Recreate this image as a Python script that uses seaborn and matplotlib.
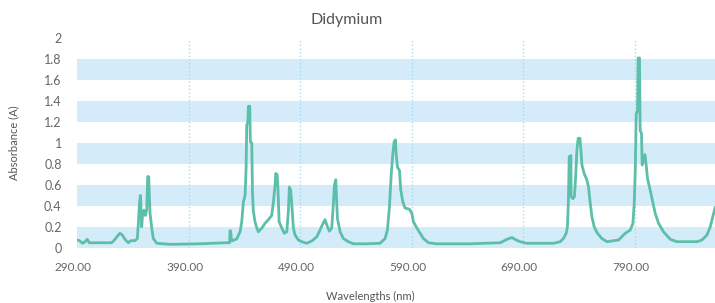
import matplotlib
matplotlib.use("Agg")
import matplotlib.pyplot as plt
import matplotlib.transforms as mtransforms
import seaborn as sns
import pandas as pd

# spectrum
wavelength = [290, 292.1, 295.1, 297.2, 299.2, 301, 321.1, 324.1, 327, 328.6, 330.6, 333, 336, 338.2, 342,
              344.1, 345, 345.9, 346.8, 347.4, 348, 348.9, 350.1, 351.3, 352.5, 353.4, 354.3, 354.8, 355.5,
              357, 358.4, 361.5, 373.4, 400, 422.7, 426.8, 427.2, 427.6, 428.7, 433.2, 436.2, 437.7, 439.2,
              440.7, 441.6, 442.2, 443.1, 443.7, 444.9, 445.4, 446.7, 447.3, 448.1, 449.6, 451.2, 452.6,
              455.7, 458.6, 461.6, 464.6, 466.1, 467.6, 468.2, 469.4, 470, 470.6, 471.2, 473.6, 475.9,
              478.1, 479.5, 480.4, 481.6, 482.6, 484, 485.5, 488.5, 491.5, 496, 501, 505, 507, 509.5,
              512.4, 513.9, 516.3, 518.4, 519.9, 520.8, 522, 522.6, 523.5, 525.9, 528.8, 533.3, 537.8,
              549.8, 561.7, 566.2, 568.3, 570.1, 571.6, 573.1, 574.3, 575.5, 576.1, 577.3, 579.1, 580.3,
              582.1, 584.2, 588, 590.2, 591.6, 594.7, 597.6, 600.6, 605.1, 612.6, 642.5, 669.4, 675,
              679.9, 683, 687.3, 693.3, 717.2, 723.2, 726.1, 728.6, 729.7, 730.6, 731.3, 732.8, 733,
              734.6, 736, 736.9, 738.2, 739.3, 740.9, 741.8, 742.7, 744.7, 747.1, 748.6, 750.1, 751.6,
              753.7, 756.6, 760.6, 765.1, 775.5, 781.5, 786, 788.4, 789.6, 790.5, 791.4, 792.5, 793.1,
              794.3, 794.9, 796.1, 796.7, 797.9, 799.2, 800.1, 801.5, 803.9, 806.4, 808.4, 811.4, 815.8,
              821.9, 827.8, 845.8, 850.3, 854.8, 857.7, 860.1, 862.2]
absorbance = [0.076, 0.07, 0.045, 0.06, 0.083, 0.05, 0.05, 0.083, 0.124, 0.14, 0.124, 0.083, 0.05, 0.07, 0.07,
              0.09, 0.235, 0.41, 0.5, 0.38, 0.2, 0.33, 0.36, 0.31, 0.36, 0.68, 0.68, 0.52, 0.33,
              0.19, 0.09, 0.045, 0.035, 0.04, 0.05, 0.05, 0.165, 0.165, 0.067, 0.086, 0.155, 0.25, 0.44,
              0.5, 0.76, 1.17, 1.2, 1.35, 1.35, 1.01, 1.0, 0.54, 0.35, 0.25, 0.19, 0.155,
              0.19, 0.235, 0.27, 0.31, 0.44, 0.6, 0.71, 0.7, 0.6, 0.44, 0.25, 0.19, 0.14,
              0.155, 0.35, 0.58, 0.55, 0.41, 0.19, 0.124, 0.076, 0.06, 0.045, 0.07, 0.108, 0.15, 0.21,
              0.27, 0.22, 0.16, 0.19, 0.43, 0.6, 0.65, 0.49, 0.28, 0.155, 0.09, 0.06, 0.04,
              0.04, 0.045, 0.09, 0.17, 0.39, 0.68, 0.89, 1.01, 1.03, 0.9, 0.77, 0.74, 0.55,
              0.44, 0.38, 0.37, 0.33, 0.25, 0.19, 0.14, 0.09, 0.05, 0.04, 0.04, 0.05, 0.08,
              0.10, 0.08, 0.06, 0.045, 0.045, 0.06, 0.09, 0.14, 0.2, 0.46, 0.87, 0.88, 0.49,
              0.47, 0.49, 0.65, 0.93, 1.045, 1.045, 0.93, 0.79, 0.71, 0.65, 0.58, 0.43, 0.3,
              0.2, 0.14, 0.09, 0.06, 0.076, 0.14, 0.17, 0.235, 0.43, 0.74, 1.28, 1.3, 1.81,
              1.81, 1.12, 1.09, 0.79, 0.84, 0.89, 0.81, 0.66, 0.55, 0.43, 0.33, 0.235, 0.155,
              0.083, 0.06, 0.06, 0.076, 0.124, 0.2, 0.3, 0.39]

x_ticks = [290, 390, 490, 590, 690, 790]
y_ticks = [0, 0.2, 0.4, 0.6, 0.8, 1, 1.2, 1.4, 1.6, 1.8, 2]

df = pd.DataFrame({"wavelength": wavelength, "absorbance": absorbance})

sns.set_style("white")
plt.rcParams["font.family"] = ["Lato", "DejaVu Sans"]

fig = plt.figure(figsize=(7.15, 3.03), dpi=100)
ax = fig.add_axes([77 / 715, 1 - 248 / 303, 1 - 77 / 715, (248 - 38) / 303])

# alternating bands
for lo in [0, 0.4, 0.8, 1.2, 1.6]:
    ax.axhspan(lo, lo + 0.2, color="#d4ebf9", lw=0, zorder=0)
for t in x_ticks[1:]:
    ax.axvline(t, color="#a6dcf2", lw=1, ls=":", zorder=0.5)

sns.lineplot(data=df, x="wavelength", y="absorbance", ax=ax, color="#5cbfa9", lw=2, zorder=3)

ax.set_xlim(290, 862)
ax.set_ylim(0, 2)
ax.set_xticks(x_ticks)
ax.set_xticklabels([f"{t:.2f}" for t in x_ticks])
ax.set_yticks(y_ticks)
ax.set_yticklabels([f"{t:g}" for t in y_ticks])
ax.tick_params(length=0, colors="#666666")
ax.tick_params(axis="y", pad=11, labelsize=9)
ax.tick_params(axis="x", pad=10, labelsize=8.5)
# labels in the reference sit a few pixels left of their ticks
shift = mtransforms.ScaledTranslation(-4 / 100, 0, fig.dpi_scale_trans)
for lab in ax.get_xticklabels():
    lab.set_transform(lab.get_transform() + shift)
for s in ax.spines.values():
    s.set_visible(False)
ax.set_xlabel("")
ax.set_ylabel("")

fig.text(347 / 715, 1 - 20 / 303, "Didymium", ha="center", va="center", fontsize=11.5, color="#555555")
fig.text(370 / 715, 1 - 296 / 303, "Wavelengths (nm)", ha="center", va="center", fontsize=8, color="#555555")
fig.text(14 / 715, 1 - 143 / 303, "Absorbance (A)", ha="center", va="center", rotation=90,
         fontsize=8, color="#555555")

fig.savefig("out.png", dpi=100)
